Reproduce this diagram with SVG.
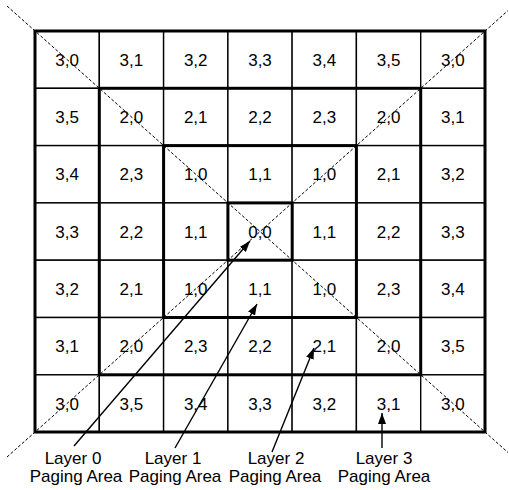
<svg xmlns="http://www.w3.org/2000/svg" width="509" height="490" viewBox="0 0 509 490">
<style>
.cell{fill:#fff;stroke:#000;stroke-width:1.4}
.t{font-family:"Liberation Sans",Arial,sans-serif;font-size:17px;text-anchor:middle;fill:#000}
.box{fill:none;stroke:#000;stroke-width:3}
.diag{stroke:#000;stroke-width:1;stroke-dasharray:3 2;fill:none}
.arr{stroke:#000;stroke-width:1.4;fill:none;marker-end:url(#ah)}
</style>
<defs>
<marker id="ah" markerUnits="userSpaceOnUse" markerWidth="11" markerHeight="8" refX="11" refY="4" orient="auto">
<path d="M0,0 L11,4 L0,8 z" fill="#000"/>
</marker>
</defs>
<rect width="509" height="490" fill="#fff"/>
<g id="cells">
<g id="c00"><rect class="cell" x="35" y="31" width="64.3" height="57.3"/><text class="t" x="67.1" y="65.7">3,0</text></g>
<g id="c01"><rect class="cell" x="99.3" y="31" width="64.3" height="57.3"/><text class="t" x="131.4" y="65.7">3,1</text></g>
<g id="c02"><rect class="cell" x="163.6" y="31" width="64.3" height="57.3"/><text class="t" x="195.7" y="65.7">3,2</text></g>
<g id="c03"><rect class="cell" x="227.9" y="31" width="64.3" height="57.3"/><text class="t" x="260" y="65.7">3,3</text></g>
<g id="c04"><rect class="cell" x="292.1" y="31" width="64.3" height="57.3"/><text class="t" x="324.3" y="65.7">3,4</text></g>
<g id="c05"><rect class="cell" x="356.4" y="31" width="64.3" height="57.3"/><text class="t" x="388.6" y="65.7">3,5</text></g>
<g id="c06"><rect class="cell" x="420.7" y="31" width="64.3" height="57.3"/><text class="t" x="452.9" y="65.7">3,0</text></g>

<g id="c10"><rect class="cell" x="35" y="88.3" width="64.3" height="57.3"/><text class="t" x="67.1" y="123">3,5</text></g>
<g id="c11"><rect class="cell" x="99.3" y="88.3" width="64.3" height="57.3"/><text class="t" x="131.4" y="123">2,0</text></g>
<g id="c12"><rect class="cell" x="163.6" y="88.3" width="64.3" height="57.3"/><text class="t" x="195.7" y="123">2,1</text></g>
<g id="c13"><rect class="cell" x="227.9" y="88.3" width="64.3" height="57.3"/><text class="t" x="260" y="123">2,2</text></g>
<g id="c14"><rect class="cell" x="292.1" y="88.3" width="64.3" height="57.3"/><text class="t" x="324.3" y="123">2,3</text></g>
<g id="c15"><rect class="cell" x="356.4" y="88.3" width="64.3" height="57.3"/><text class="t" x="388.6" y="123">2,0</text></g>
<g id="c16"><rect class="cell" x="420.7" y="88.3" width="64.3" height="57.3"/><text class="t" x="452.9" y="123">3,1</text></g>

<g id="c20"><rect class="cell" x="35" y="145.6" width="64.3" height="57.3"/><text class="t" x="67.1" y="180.3">3,4</text></g>
<g id="c21"><rect class="cell" x="99.3" y="145.6" width="64.3" height="57.3"/><text class="t" x="131.4" y="180.3">2,3</text></g>
<g id="c22"><rect class="cell" x="163.6" y="145.6" width="64.3" height="57.3"/><text class="t" x="195.7" y="180.3">1,0</text></g>
<g id="c23"><rect class="cell" x="227.9" y="145.6" width="64.3" height="57.3"/><text class="t" x="260" y="180.3">1,1</text></g>
<g id="c24"><rect class="cell" x="292.1" y="145.6" width="64.3" height="57.3"/><text class="t" x="324.3" y="180.3">1,0</text></g>
<g id="c25"><rect class="cell" x="356.4" y="145.6" width="64.3" height="57.3"/><text class="t" x="388.6" y="180.3">2,1</text></g>
<g id="c26"><rect class="cell" x="420.7" y="145.6" width="64.3" height="57.3"/><text class="t" x="452.9" y="180.3">3,2</text></g>

<g id="c30"><rect class="cell" x="35" y="202.9" width="64.3" height="57.3"/><text class="t" x="67.1" y="237.6">3,3</text></g>
<g id="c31"><rect class="cell" x="99.3" y="202.9" width="64.3" height="57.3"/><text class="t" x="131.4" y="237.6">2,2</text></g>
<g id="c32"><rect class="cell" x="163.6" y="202.9" width="64.3" height="57.3"/><text class="t" x="195.7" y="237.6">1,1</text></g>
<g id="c33"><rect class="cell" x="227.9" y="202.9" width="64.3" height="57.3"/><text class="t" x="260" y="237.6">0,0</text></g>
<g id="c34"><rect class="cell" x="292.1" y="202.9" width="64.3" height="57.3"/><text class="t" x="324.3" y="237.6">1,1</text></g>
<g id="c35"><rect class="cell" x="356.4" y="202.9" width="64.3" height="57.3"/><text class="t" x="388.6" y="237.6">2,2</text></g>
<g id="c36"><rect class="cell" x="420.7" y="202.9" width="64.3" height="57.3"/><text class="t" x="452.9" y="237.6">3,3</text></g>

<g id="c40"><rect class="cell" x="35" y="260.2" width="64.3" height="57.3"/><text class="t" x="67.1" y="294.9">3,2</text></g>
<g id="c41"><rect class="cell" x="99.3" y="260.2" width="64.3" height="57.3"/><text class="t" x="131.4" y="294.9">2,1</text></g>
<g id="c42"><rect class="cell" x="163.6" y="260.2" width="64.3" height="57.3"/><text class="t" x="195.7" y="294.9">1,0</text></g>
<g id="c43"><rect class="cell" x="227.9" y="260.2" width="64.3" height="57.3"/><text class="t" x="260" y="294.9">1,1</text></g>
<g id="c44"><rect class="cell" x="292.1" y="260.2" width="64.3" height="57.3"/><text class="t" x="324.3" y="294.9">1,0</text></g>
<g id="c45"><rect class="cell" x="356.4" y="260.2" width="64.3" height="57.3"/><text class="t" x="388.6" y="294.9">2,3</text></g>
<g id="c46"><rect class="cell" x="420.7" y="260.2" width="64.3" height="57.3"/><text class="t" x="452.9" y="294.9">3,4</text></g>

<g id="c50"><rect class="cell" x="35" y="317.5" width="64.3" height="57.3"/><text class="t" x="67.1" y="352.2">3,1</text></g>
<g id="c51"><rect class="cell" x="99.3" y="317.5" width="64.3" height="57.3"/><text class="t" x="131.4" y="352.2">2,0</text></g>
<g id="c52"><rect class="cell" x="163.6" y="317.5" width="64.3" height="57.3"/><text class="t" x="195.7" y="352.2">2,3</text></g>
<g id="c53"><rect class="cell" x="227.9" y="317.5" width="64.3" height="57.3"/><text class="t" x="260" y="352.2">2,2</text></g>
<g id="c54"><rect class="cell" x="292.1" y="317.5" width="64.3" height="57.3"/><text class="t" x="324.3" y="352.2">2,1</text></g>
<g id="c55"><rect class="cell" x="356.4" y="317.5" width="64.3" height="57.3"/><text class="t" x="388.6" y="352.2">2,0</text></g>
<g id="c56"><rect class="cell" x="420.7" y="317.5" width="64.3" height="57.3"/><text class="t" x="452.9" y="352.2">3,5</text></g>

<g id="c60"><rect class="cell" x="35" y="374.8" width="64.3" height="57.3"/><text class="t" x="67.1" y="409.5">3,0</text></g>
<g id="c61"><rect class="cell" x="99.3" y="374.8" width="64.3" height="57.3"/><text class="t" x="131.4" y="409.5">3,5</text></g>
<g id="c62"><rect class="cell" x="163.6" y="374.8" width="64.3" height="57.3"/><text class="t" x="195.7" y="409.5">3,4</text></g>
<g id="c63"><rect class="cell" x="227.9" y="374.8" width="64.3" height="57.3"/><text class="t" x="260" y="409.5">3,3</text></g>
<g id="c64"><rect class="cell" x="292.1" y="374.8" width="64.3" height="57.3"/><text class="t" x="324.3" y="409.5">3,2</text></g>
<g id="c65"><rect class="cell" x="356.4" y="374.8" width="64.3" height="57.3"/><text class="t" x="388.6" y="409.5">3,1</text></g>
<g id="c66"><rect class="cell" x="420.7" y="374.8" width="64.3" height="57.3"/><text class="t" x="452.9" y="409.5">3,0</text></g>
</g>
<g id="layer-boxes">
<rect id="area3" class="box" x="35" y="31" width="450" height="401"/>
<rect id="area2" class="box" x="99.3" y="88.3" width="321.4" height="286.5"/>
<rect id="area1" class="box" x="163.6" y="145.6" width="192.8" height="171.9"/>
<rect id="area0" class="box" x="227.9" y="202.9" width="64.3" height="57.3"/>
</g>
<g id="diagonals">
<line class="diag" x1="7" y1="6" x2="508" y2="452.5"/>
<line class="diag" x1="7" y1="457" x2="508" y2="10.6"/>
</g>
<g id="connectors">
<line class="arr" x1="74" y1="446" x2="250" y2="241"/>
<line class="arr" x1="175" y1="448" x2="257" y2="304"/>
<line class="arr" x1="272" y1="452" x2="314" y2="348"/>
<line class="arr" x1="382" y1="448" x2="382" y2="413"/>
</g>
<g id="label0"><text class="t" x="73" y="464">Layer 0</text><text class="t" x="76" y="482">Paging Area</text></g>
<g id="label1"><text class="t" x="173" y="464">Layer 1</text><text class="t" x="175" y="482">Paging Area</text></g>
<g id="label2"><text class="t" x="276" y="464">Layer 2</text><text class="t" x="275" y="482">Paging Area</text></g>
<g id="label3"><text class="t" x="384" y="464">Layer 3</text><text class="t" x="384" y="482">Paging Area</text></g>
</svg>
